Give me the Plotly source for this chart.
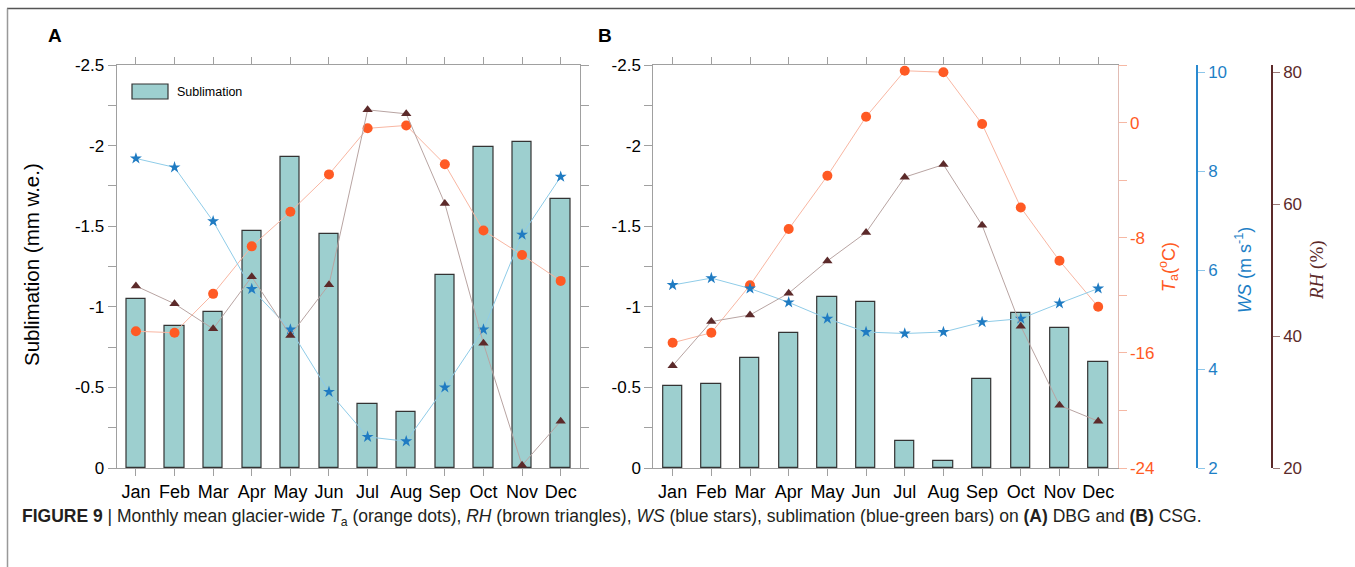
import plotly.graph_objects as go

# ---------------- data ----------------
months = ["Jan", "Feb", "Mar", "Apr", "May", "Jun", "Jul", "Aug", "Sep", "Oct", "Nov", "Dec"]

# Panel A (DBG)
subl_A = [-1.05, -0.88, -0.97, -1.47, -1.93, -1.45, -0.40, -0.35, -1.20, -1.99, -2.02, -1.67]
ta_A = [-14.5, -14.6, -11.9, -8.6, -6.2, -3.6, -0.4, -0.2, -2.9, -7.5, -9.2, -11.0]
rh_A = [47.6, 44.9, 41.1, 49.0, 40.1, 47.8, 74.3, 73.7, 60.1, 38.9, 20.4, 27.1]
ws_A = [8.26, 8.08, 6.99, 5.62, 4.80, 3.54, 2.63, 2.54, 3.63, 4.80, 6.72, 7.89]

# Panel B (CSG)
subl_B = [-0.51, -0.52, -0.68, -0.84, -1.06, -1.03, -0.17, -0.045, -0.55, -0.96, -0.87, -0.66]
ta_B = [-15.3, -14.6, -11.3, -7.4, -3.7, 0.4, 3.6, 3.5, -0.1, -5.9, -9.6, -12.8]
rh_B = [35.5, 42.2, 43.2, 46.5, 51.4, 55.7, 64.1, 66.0, 56.8, 41.5, 29.5, 27.1]
ws_B = [5.70, 5.84, 5.63, 5.35, 5.02, 4.75, 4.72, 4.75, 4.95, 5.02, 5.33, 5.63]

# tick labels
subl_ticks = [-2.5, -2, -1.5, -1, -0.5, 0]
subl_ticktext = ["-2.5", "-2", "-1.5", "-1", "-0.5", "0"]
subl_minor = [-2.25, -1.75, -1.25, -0.75, -0.25]
ta_ticks = [-24, -16, -8, 0]
ta_ticktext = ["-24", "-16", "-8", "0"]
ta_minor = [-20, -12, -4, 4]
ws_ticks = [2, 4, 6, 8, 10]
rh_ticks = [20, 40, 60, 80]

# ---------------- style ----------------
FONT = "Liberation Sans, Arial, sans-serif"
AX = "#a0a0a0"
BAR_FILL = "#9dcfcf"
BAR_LINE = "#333333"
TA_C, TA_L = "#ff5a24", "#f8b6a2"
RH_C, RH_L = "#5c2a2a", "#b8a4a2"
WS_C, WS_L = "#1f7bc2", "#8fcce8"

W, H = 1355, 567
def px(x):
    return x / W
def py(y):
    return 1 - y / H

xdomA = [px(116.6), px(580)]
xdomB = [px(653.3), px(1117.5)]
ydom = [py(468), py(65)]

TA_RANGE = [-24, 4]
WS_RANGE = [2, 10.15]
RH_RANGE = [20, 81.1]

fig = go.Figure()

def add_panel(xa, yl, yt, yw, yr, subl, ta, rh, ws):
    fig.add_trace(go.Bar(x=months, y=subl, xaxis=xa, yaxis=yl, width=0.5,
                         marker=dict(color=BAR_FILL, line=dict(color=BAR_LINE, width=1.2)),
                         showlegend=False))
    fig.add_trace(go.Scatter(x=months, y=ta, xaxis=xa, yaxis=yt, mode="lines+markers",
                             line=dict(color=TA_L, width=1),
                             marker=dict(symbol="circle", size=10, color=TA_C),
                             showlegend=False))
    fig.add_trace(go.Scatter(x=months, y=ws, xaxis=xa, yaxis=yw, mode="lines+markers",
                             line=dict(color=WS_L, width=1),
                             marker=dict(symbol="star", size=9, color=WS_C),
                             showlegend=False))
    fig.add_trace(go.Scatter(x=months, y=rh, xaxis=xa, yaxis=yr, mode="lines+markers",
                             line=dict(color=RH_L, width=1),
                             marker=dict(symbol="triangle-up", size=9, color=RH_C),
                             showlegend=False))

add_panel("x", "y", "y2", "y3", "y4", subl_A, ta_A, rh_A, ws_A)
add_panel("x2", "y5", "y6", "y7", "y8", subl_B, ta_B, rh_B, ws_B)

xcommon = dict(type="category", range=[-0.5, 11.5], showline=True, linecolor=AX, linewidth=1,
               mirror="ticks", ticks="outside", ticklen=7, tickcolor=AX,
               tickfont=dict(family=FONT, size=18, color="black"), showgrid=False, zeroline=False)
ycommon = dict(range=[0, -2.5], tickmode="array", tickvals=subl_ticks, ticktext=subl_ticktext,
               showline=True, linecolor=AX, linewidth=1, ticks="outside", ticklen=8, tickcolor=AX,
               minor=dict(tickmode="array", tickvals=subl_minor, ticks="outside", ticklen=8, tickcolor=AX),
               tickfont=dict(family=FONT, size=17, color="black"), showgrid=False, zeroline=False,
               domain=ydom)

fig.update_layout(
    width=W, height=H,
    margin=dict(l=0, r=0, t=0, b=0, autoexpand=False),
    paper_bgcolor="white", plot_bgcolor="white",
    bargap=0,
    xaxis=dict(domain=xdomA, anchor="y", **xcommon),
    xaxis2=dict(domain=xdomB, anchor="y5", **xcommon),
    yaxis=dict(anchor="x", mirror="ticks", **ycommon),
    yaxis2=dict(anchor="x", overlaying="y", range=TA_RANGE, visible=False),
    yaxis3=dict(anchor="x", overlaying="y", range=WS_RANGE, visible=False),
    yaxis4=dict(anchor="x", overlaying="y", range=RH_RANGE, visible=False),
    yaxis5=dict(anchor="x2", mirror=False, **ycommon),
    yaxis6=dict(anchor="x2", overlaying="y5", side="right", range=TA_RANGE,
                tickmode="array", tickvals=ta_ticks, ticktext=ta_ticktext,
                showline=True, linecolor="#e2bcb4", linewidth=1, ticks="outside", ticklen=8,
                tickcolor="#f6b8a4",
                minor=dict(tickmode="array", tickvals=ta_minor, ticks="outside", ticklen=8, tickcolor="#f6b8a4"),
                tickfont=dict(family=FONT, size=17, color=TA_C), showgrid=False, zeroline=False),
    yaxis7=dict(anchor="free", overlaying="y5", side="right", position=px(1197), range=WS_RANGE,
                tickmode="array", tickvals=ws_ticks,
                showline=True, linecolor="#2a8ad0", linewidth=1.5, ticks="outside", ticklen=7,
                tickcolor="#8cc6ea",
                tickfont=dict(family=FONT, size=17, color="#1e7fc6"), showgrid=False, zeroline=False),
    yaxis8=dict(anchor="free", overlaying="y5", side="right", position=px(1272), range=RH_RANGE,
                tickmode="array", tickvals=rh_ticks,
                showline=True, linecolor=RH_C, linewidth=1.5, ticks="outside", ticklen=7,
                tickcolor="#9a7a78",
                tickfont=dict(family=FONT, size=17, color=RH_C), showgrid=False, zeroline=False),
)

ann = [
    dict(x=px(55), y=py(35), text="<b>A</b>", font=dict(family=FONT, size=19, color="black")),
    dict(x=px(605), y=py(35), text="<b>B</b>", font=dict(family=FONT, size=19, color="black")),
    dict(x=px(32), y=py(265), text="Sublimation (mm w.e.)", textangle=-90,
         font=dict(family=FONT, size=20.5, color="black")),
    dict(x=px(1168), y=py(267), text="<i>T</i><sub>a</sub>(<sup>o</sup>C)", textangle=-90,
         font=dict(family=FONT, size=18, color=TA_C)),
    dict(x=px(1243), y=py(270), text="<i>WS</i> (m s<sup>-1</sup>)", textangle=-90,
         font=dict(family=FONT, size=18, color="#1e7fc6")),
    dict(x=px(1317), y=py(270), text="<i>RH</i> (%)", textangle=-90,
         font=dict(family="Liberation Serif, Times New Roman, serif", size=19, color=RH_C)),
    dict(x=px(175), y=py(91.5), text="Sublimation", xanchor="left",
         font=dict(family=FONT, size=12.5, color="black")),
    dict(x=px(20), y=py(517), xanchor="left",
         text="<b>FIGURE 9</b> | Monthly mean glacier-wide <i>T</i><sub>a</sub> (orange dots), <i>RH</i> (brown triangles), "
              "<i>WS</i> (blue stars), sublimation (blue-green bars) on <b>(A)</b> DBG and <b>(B)</b> CSG.",
         font=dict(family=FONT, size=17.5, color="#231f20")),
]
for a in ann:
    a.setdefault("xref", "paper")
    a.setdefault("yref", "paper")
    a.setdefault("showarrow", False)
    a.setdefault("xanchor", "center")
    a.setdefault("yanchor", "middle")
fig.update_layout(annotations=ann)

fig.update_layout(shapes=[
    dict(type="rect", xref="paper", yref="paper", x0=px(132), x1=px(168), y0=py(99), y1=py(84),
         fillcolor=BAR_FILL, line=dict(color=BAR_LINE, width=1.2)),
    dict(type="line", xref="paper", yref="paper", x0=px(7), x1=1, y0=py(8.5), y1=py(8.5),
         line=dict(color="#555555", width=1.5)),
    dict(type="line", xref="paper", yref="paper", x0=px(7.5), x1=px(7.5), y0=py(8.5), y1=0,
         line=dict(color="#999999", width=1.5)),
])

fig.write_html("out.html")
